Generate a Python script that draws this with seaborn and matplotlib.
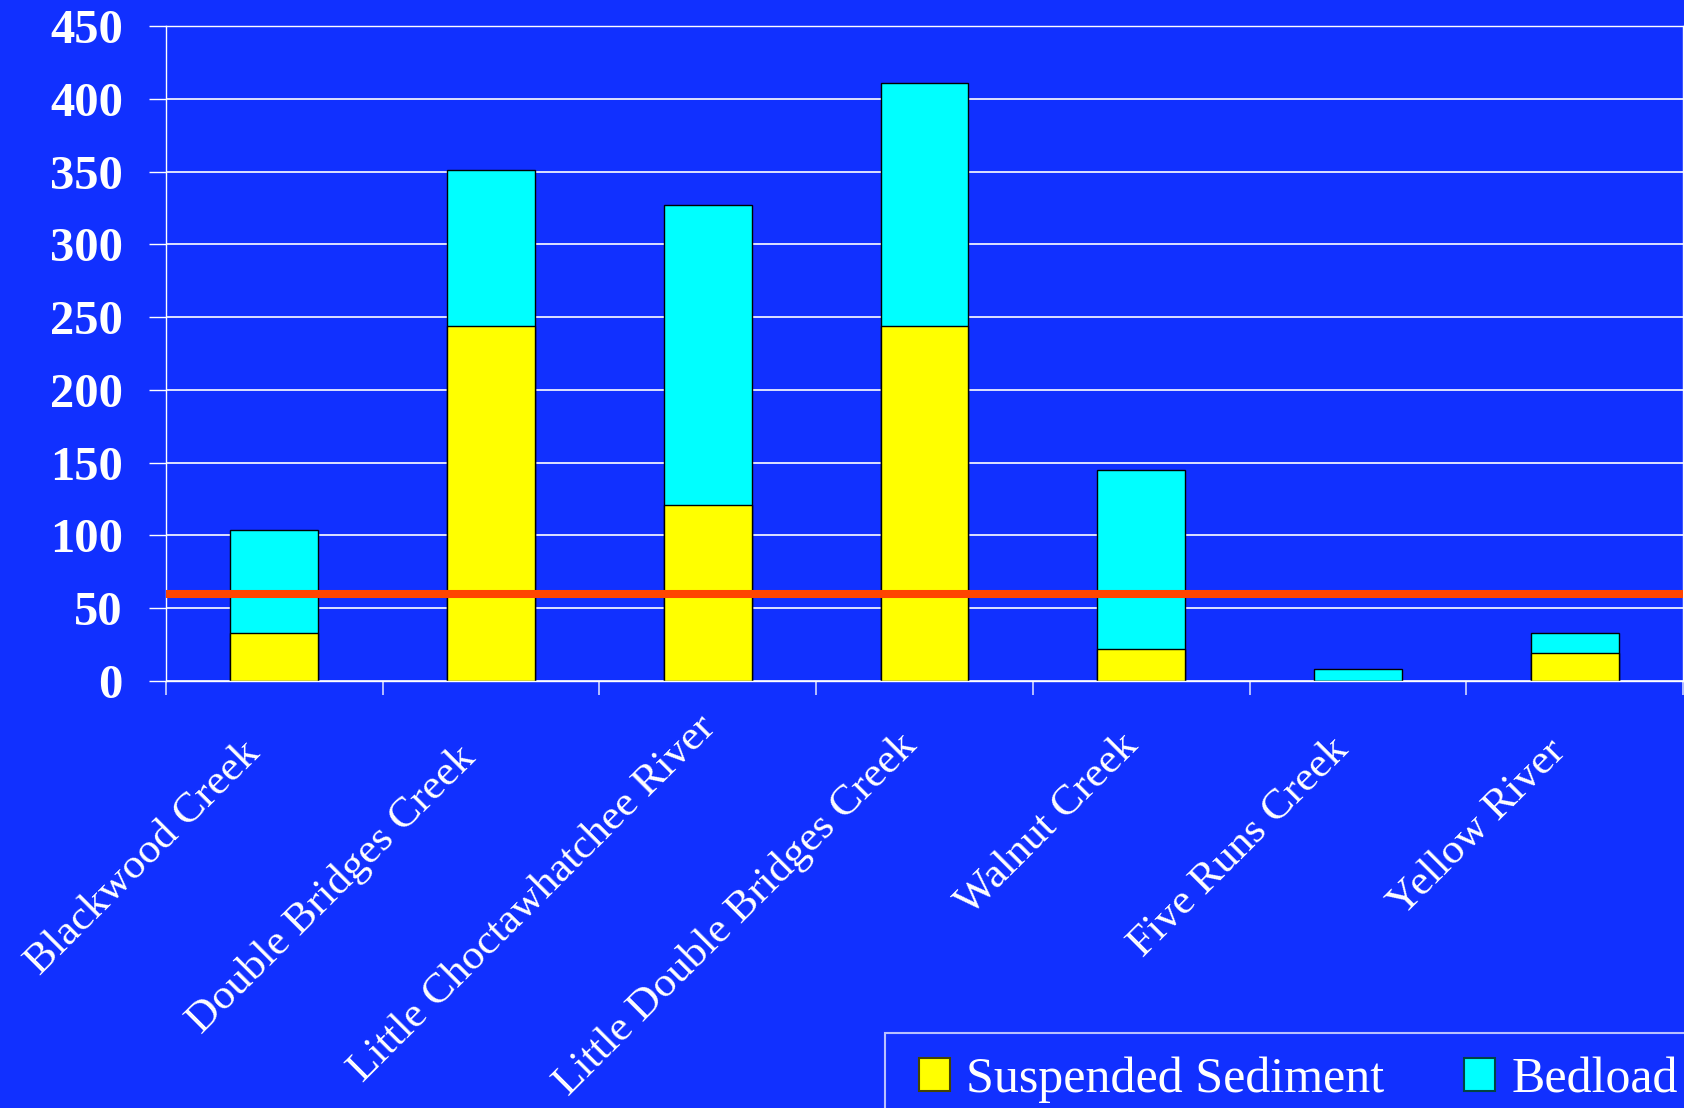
import matplotlib
matplotlib.use("Agg")
import matplotlib.pyplot as plt
import matplotlib.transforms as mtransforms
import seaborn as sns
import pandas as pd
import numpy as np
from matplotlib.patches import Patch, Rectangle

# ---- data ----
categories = ["Blackwood Creek", "Double Bridges Creek", "Little Choctawhatchee River",
              "Little Double Bridges Creek", "Walnut Creek", "Five Runs Creek", "Yellow River"]
suspended = [33, 244, 121, 244, 22, 0, 19]
bedload = [71, 107, 206, 167, 123, 8, 14]
reference_level = 60
y_ticks = [0, 50, 100, 150, 200, 250, 300, 350, 400, 450]
series_names = ["Suspended Sediment", "Bedload"]

BG = "#1130FF"
YELLOW = "#FFFF00"
CYAN = "#00FFFF"
RED = "#FF4500"

plt.rcParams["font.family"] = ["Liberation Serif", "DejaVu Serif"]

df = pd.DataFrame({"site": categories,
                   "suspended": suspended,
                   "total": [s + b for s, b in zip(suspended, bedload)]})

fig = plt.figure(figsize=(16.84, 11.08), dpi=100, facecolor=BG)
W, H = 1684, 1108
ax = fig.add_axes([166 / W, 1 - 681 / H, (1683 - 166) / W, (681 - 26) / H])
ax.set_facecolor(BG)
ax.set_axisbelow(True)

sns.barplot(data=df, x="site", y="total", order=categories, color=CYAN, saturation=1,
            width=0.406, edgecolor="black", linewidth=1.0, errorbar=None, ax=ax)
sns.barplot(data=df, x="site", y="suspended", order=categories, color=YELLOW, saturation=1,
            width=0.406, edgecolor="black", linewidth=1.0, errorbar=None, ax=ax)

ax.axhline(reference_level, color=RED, lw=5.8, zorder=5)

ax.set_xlim(-0.5, len(categories) - 0.5)
ax.set_ylim(0, 450)
ax.set_yticks(y_ticks)
ax.set_yticklabels([str(t) for t in y_ticks], fontsize=35, fontweight="bold", color="white")
ax.yaxis.grid(True, color="white", lw=1.2)
ax.xaxis.grid(False)
ax.tick_params(axis="y", length=12, width=1.0, color="white", pad=19)

ax.set_xticks(range(len(categories)))
ax.set_xticklabels(categories, rotation=45, ha="right", va="center",
                   rotation_mode="anchor", fontsize=31.3, color="white")
ax.tick_params(axis="x", which="major", length=0, pad=48)
ax.set_xticks(np.arange(-0.5, len(categories), 1.0), minor=True)
ax.tick_params(axis="x", which="minor", length=10, width=1.2, color="#d0d6ff")
ax.set_xlabel("")
ax.set_ylabel("")

# small label nudges (pixels) to follow the reference placement
nudges = [(-20, 0), (-22, -4), (2, 26), (-14, 8), (-9, 8), (-15, 4), (-15, 2)]
for lab, (dx, dy) in zip(ax.get_xticklabels(), nudges):
    off = mtransforms.ScaledTranslation(dx / 100, dy / 100, fig.dpi_scale_trans)
    lab.set_transform(lab.get_transform() + off)

for s in ax.spines.values():
    s.set_color("white")
    s.set_linewidth(1.0)

# legend box (frame partly off-canvas as in the reference)
frame = Rectangle((885 / W, -0.1), 0.5, (1 - 1033 / H) + 0.1, transform=fig.transFigure,
                  facecolor="none", edgecolor="#b8c0ff", lw=1.5, zorder=10)
fig.patches.append(frame)

handles = [Patch(facecolor=YELLOW, edgecolor="#444400", lw=1.5),
           Patch(facecolor=CYAN, edgecolor="#004444", lw=1.5)]
leg = fig.legend(handles, series_names, loc="center left",
                 bbox_to_anchor=(919 / W, 1 - 1080 / H), bbox_transform=fig.transFigure,
                 ncol=2, frameon=False, fontsize=36, borderpad=0, borderaxespad=0,
                 handlelength=0.62, handleheight=0.64, handletextpad=0.32,
                 columnspacing=1.6)
for t in leg.get_texts():
    t.set_color("white")

fig.savefig("out.png", dpi=100, facecolor=BG)
